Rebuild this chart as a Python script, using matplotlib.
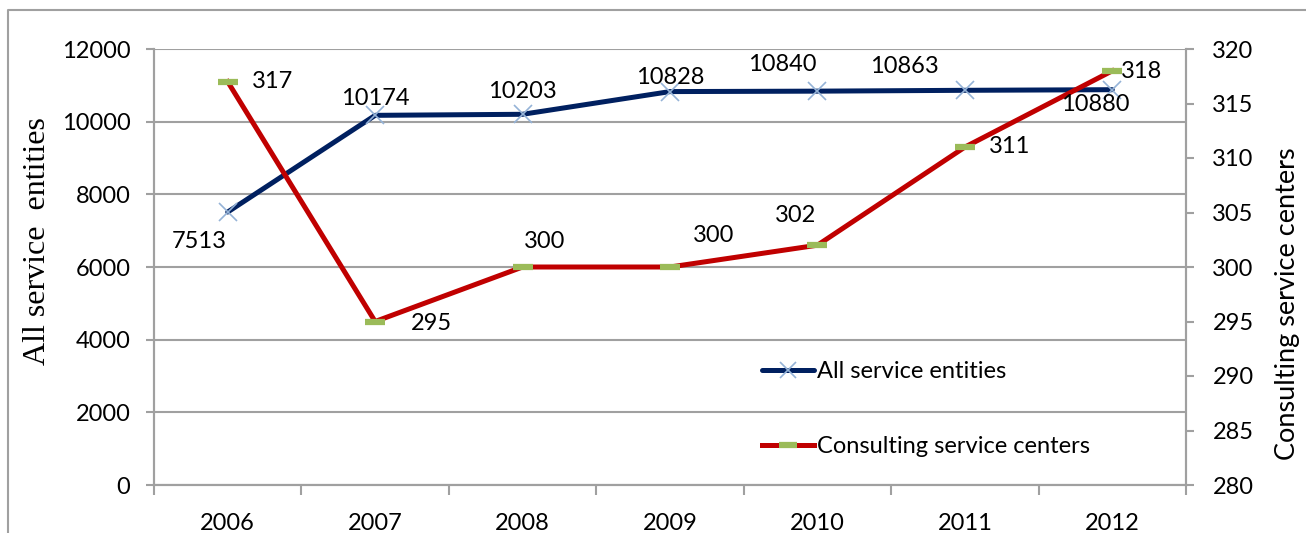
import numpy as np
import matplotlib
matplotlib.use("Agg")
import matplotlib.pyplot as plt
from matplotlib.lines import Line2D

# ---------------- data ----------------
years = ["2006", "2007", "2008", "2009", "2010", "2011", "2012"]
all_entities = [7513, 10174, 10203, 10828, 10840, 10863, 10880]
consulting = [317, 295, 300, 300, 302, 311, 318]

# label offsets in pixels (dx, dy) for each data label
off_all = [(-28, -29), (0, 17), (0, 23), (0, 14), (-35, 27), (-60, 24), (-17, -15)]
off_con = [(45, 0), (56, -2), (22, 26), (44, 31), (-22, 30), (45, 1), (29, -1)]

plt.rcParams['font.family'] = ['Lato', 'DejaVu Sans']
fs = 17
grid_c = '#A0A0A0'
navy = '#002060'
red = '#C00000'
green = '#9BBB59'
lblue = '#95B3D7'

W, H = 1306, 533
fig = plt.figure(figsize=(W / 100, H / 100), dpi=100)
ax = fig.add_axes([154 / W, 48 / H, (1186 - 154) / W, (485 - 49) / H])
ax2 = ax.twinx()

x = np.arange(len(years))

# ---------- left axis: all service entities ----------
ax.plot(x, all_entities, color=navy, lw=3.6, marker='x', ms=13, mec=lblue, mew=1.2,
        solid_capstyle='round', zorder=3, label='All service entities')
ax.set_ylim(0, 12000)
ax.set_yticks(np.arange(0, 12001, 2000))
ax.set_xlim(-0.5, len(years) - 0.5)
ax.set_xticks(x)
ax.set_xticklabels(years)
ax.set_xticks(np.arange(-0.5, len(years), 1), minor=True)
ax.tick_params(axis='x', which='major', length=0, pad=20, labelsize=fs)
ax.tick_params(axis='x', which='minor', length=7, width=1.5, color=grid_c, direction='out')
ax.tick_params(axis='y', length=6, width=1.5, color=grid_c, pad=11, labelsize=fs)
ax.yaxis.grid(True, color=grid_c, lw=1.5)
ax.set_axisbelow(True)
ax.spines['top'].set_visible(False)
for s in ['left', 'bottom', 'right']:
    ax.spines[s].set_color(grid_c)
    ax.spines[s].set_linewidth(1.5)

# ---------- right axis: consulting service centers ----------
ax2.plot(x, consulting, color=red, lw=3.6, marker='_', ms=15, mec=green, mew=4.5,
         zorder=3, label='Consulting service centers')
ax2.set_ylim(280, 320)
ax2.set_yticks(np.arange(280, 321, 5))
ax2.tick_params(axis='y', length=6, width=1.5, color=grid_c, pad=13, labelsize=fs)
ax2.spines['top'].set_visible(False)
for s in ['left', 'bottom', 'right']:
    ax2.spines[s].set_color(grid_c)
    ax2.spines[s].set_linewidth(1.5)

# data labels
for xi, v, (dx, dy) in zip(x, all_entities, off_all):
    ax2.annotate(str(v), xy=(xi, v), xycoords=ax.transData, xytext=(dx, dy),
                 textcoords='offset pixels', ha='center', va='center', fontsize=fs, zorder=5)
for xi, v, (dx, dy) in zip(x, consulting, off_con):
    ax2.annotate(str(v), xy=(xi, v), xytext=(dx, dy), textcoords='offset pixels',
                 ha='center', va='center', fontsize=fs, zorder=5)

# legend
h1, l1 = ax.get_legend_handles_labels()
h2, l2 = ax2.get_legend_handles_labels()
leg = ax2.legend(h1 + h2, l1 + l2, loc='center left', frameon=False, fontsize=fs,
                 bbox_to_anchor=(741 / W, 1 - 409 / H), bbox_transform=fig.transFigure,
                 handlelength=2.2, handletextpad=0.1, labelspacing=2.3, markerscale=0.9)

# axis titles
fig.text(38 / W, 1 - 241 / H, 'All service  entities', rotation=90, ha='center', va='center',
         fontsize=23, family='Liberation Serif')
fig.text(1287 / W, 1 - 304 / H, 'Consulting service centers', rotation=90, ha='center',
         va='center', fontsize=19.5)

# outer frame (left and top edges)
fig.add_artist(Line2D([7.5 / W, 7.5 / W, 1.01], [-0.01, 1 - 10 / H, 1 - 10 / H],
                      transform=fig.transFigure, color=grid_c, lw=1.5))

fig.savefig('out.png', dpi=100)
